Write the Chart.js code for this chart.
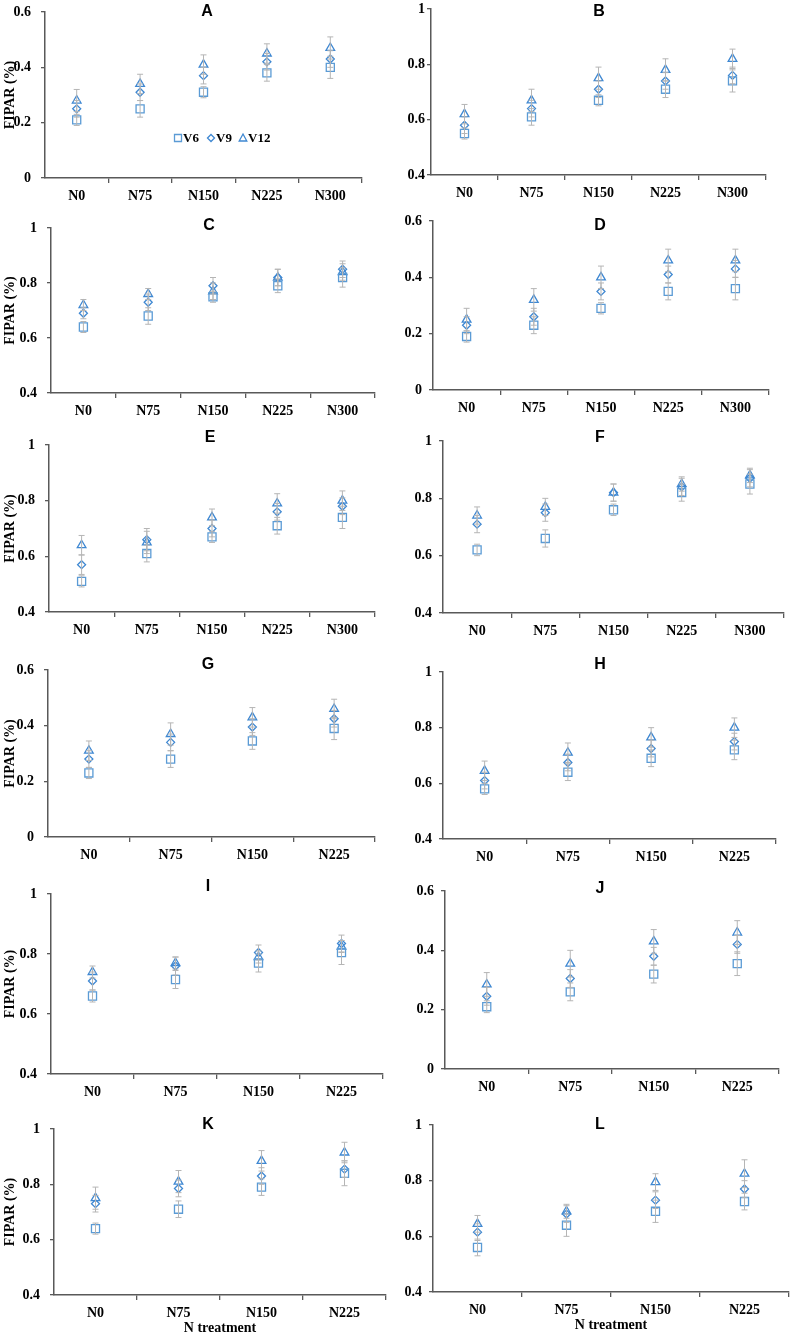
<!DOCTYPE html>
<html>
<head>
<meta charset="utf-8">
<script src="https://cdn.jsdelivr.net/npm/chart.js@4.4.1/dist/chart.umd.min.js"></script>
<style>
html, body { margin: 0; padding: 0; background: #fff; }
#wrap { position: relative; width: 794px; height: 1339px; overflow: hidden; }
#wrap canvas { position: absolute; }
</style>
</head>
<body>
<div id="wrap"></div>
<script>
// categories and series
const catsFive = ['N0', 'N75', 'N150', 'N225', 'N300'];
const catsFour = ['N0', 'N75', 'N150', 'N225'];
const seriesNames = ['V6', 'V9', 'V12'];
const ticks06 = [0, 0.6];
const ticks1 = [0.4, 1];

// A
const v6A = [0.21, 0.25, 0.31, 0.38, 0.40];
const v9A = [0.25, 0.31, 0.37, 0.42, 0.43];
const v12A = [0.28, 0.34, 0.41, 0.45, 0.47];
const e6A = [0.02, 0.03, 0.02, 0.03, 0.04];
const e9A = [0.03, 0.03, 0.03, 0.03, 0.03];
const e12A = [0.04, 0.035, 0.035, 0.035, 0.04];
// B
const v6B = [0.55, 0.61, 0.67, 0.71, 0.74];
const v9B = [0.58, 0.64, 0.71, 0.74, 0.76];
const v12B = [0.62, 0.67, 0.75, 0.78, 0.82];
const e6B = [0.02, 0.03, 0.02, 0.03, 0.04];
const e9B = [0.03, 0.03, 0.03, 0.03, 0.03];
const e12B = [0.035, 0.04, 0.04, 0.04, 0.035];
// C
const v6C = [0.64, 0.68, 0.75, 0.79, 0.82];
const v9C = [0.69, 0.73, 0.79, 0.82, 0.85];
const v12C = [0.72, 0.76, 0.77, 0.82, 0.84];
const e6C = [0.02, 0.03, 0.02, 0.025, 0.035];
const e9C = [0.02, 0.03, 0.03, 0.03, 0.03];
const e12C = [0.02, 0.02, 0.03, 0.03, 0.03];
// D
const v6D = [0.19, 0.23, 0.29, 0.35, 0.36];
const v9D = [0.23, 0.26, 0.35, 0.41, 0.43];
const v12D = [0.25, 0.32, 0.40, 0.46, 0.46];
const e6D = [0.02, 0.03, 0.02, 0.03, 0.04];
const e9D = [0.03, 0.03, 0.03, 0.03, 0.03];
const e12D = [0.04, 0.04, 0.04, 0.04, 0.04];
// E
const v6E = [0.51, 0.61, 0.67, 0.71, 0.74];
const v9E = [0.57, 0.66, 0.70, 0.76, 0.78];
const v12E = [0.64, 0.65, 0.74, 0.79, 0.80];
const e6E = [0.02, 0.03, 0.02, 0.03, 0.04];
const e9E = [0.035, 0.04, 0.03, 0.03, 0.03];
const e12E = [0.035, 0.04, 0.03, 0.035, 0.035];
// F
const v6F = [0.62, 0.66, 0.76, 0.82, 0.85];
const v9F = [0.71, 0.75, 0.82, 0.84, 0.87];
const v12F = [0.74, 0.77, 0.82, 0.85, 0.88];
const e6F = [0.02, 0.03, 0.02, 0.03, 0.035];
const e9F = [0.03, 0.03, 0.03, 0.03, 0.03];
const e12F = [0.03, 0.03, 0.03, 0.025, 0.025];
// G
const v6G = [0.23, 0.28, 0.345, 0.39];
const v9G = [0.28, 0.34, 0.395, 0.425];
const v12G = [0.31, 0.37, 0.43, 0.46];
const e6G = [0.02, 0.03, 0.03, 0.04];
const e9G = [0.03, 0.03, 0.03, 0.03];
const e12G = [0.035, 0.04, 0.035, 0.035];
// H
const v6H = [0.58, 0.64, 0.69, 0.72];
const v9H = [0.61, 0.675, 0.725, 0.75];
const v12H = [0.645, 0.71, 0.765, 0.80];
const e6H = [0.02, 0.03, 0.03, 0.035];
const e9H = [0.03, 0.03, 0.03, 0.03];
const e12H = [0.035, 0.035, 0.035, 0.035];
// I
const v6I = [0.66, 0.715, 0.77, 0.805];
const v9I = [0.71, 0.76, 0.805, 0.835];
const v12I = [0.74, 0.77, 0.79, 0.825];
const e6I = [0.02, 0.03, 0.03, 0.04];
const e9I = [0.03, 0.03, 0.025, 0.028];
const e12I = [0.02, 0.02, 0.02, 0.02];
// J
const v6J = [0.21, 0.26, 0.32, 0.355];
const v9J = [0.245, 0.305, 0.38, 0.42];
const v12J = [0.285, 0.355, 0.43, 0.46];
const e6J = [0.02, 0.03, 0.03, 0.04];
const e9J = [0.03, 0.03, 0.03, 0.03];
const e12J = [0.04, 0.045, 0.04, 0.04];
// K
const v6K = [0.64, 0.71, 0.79, 0.84];
const v9K = [0.73, 0.785, 0.83, 0.855];
const v12K = [0.75, 0.81, 0.885, 0.915];
const e6K = [0.02, 0.03, 0.03, 0.045];
const e9K = [0.03, 0.03, 0.03, 0.03];
const e12K = [0.04, 0.04, 0.037, 0.037];
// L
const v6L = [0.56, 0.64, 0.69, 0.725];
const v9L = [0.615, 0.68, 0.73, 0.77];
const v12L = [0.645, 0.69, 0.795, 0.825];
const e6L = [0.03, 0.04, 0.04, 0.03];
const e9L = [0.03, 0.03, 0.03, 0.03];
const e12L = [0.03, 0.025, 0.03, 0.05];

const panels = [
    { id: 'A', cats: catsFive, range: ticks06, vals: [v6A, v9A, v12A], errs: [e6A, e9A, e12A] },
    { id: 'B', cats: catsFive, range: ticks1, vals: [v6B, v9B, v12B], errs: [e6B, e9B, e12B] },
    { id: 'C', cats: catsFive, range: ticks1, vals: [v6C, v9C, v12C], errs: [e6C, e9C, e12C] },
    { id: 'D', cats: catsFive, range: ticks06, vals: [v6D, v9D, v12D], errs: [e6D, e9D, e12D] },
    { id: 'E', cats: catsFive, range: ticks1, vals: [v6E, v9E, v12E], errs: [e6E, e9E, e12E] },
    { id: 'F', cats: catsFive, range: ticks1, vals: [v6F, v9F, v12F], errs: [e6F, e9F, e12F] },
    { id: 'G', cats: catsFour, range: ticks06, vals: [v6G, v9G, v12G], errs: [e6G, e9G, e12G] },
    { id: 'H', cats: catsFour, range: ticks1, vals: [v6H, v9H, v12H], errs: [e6H, e9H, e12H] },
    { id: 'I', cats: catsFour, range: ticks1, vals: [v6I, v9I, v12I], errs: [e6I, e9I, e12I] },
    { id: 'J', cats: catsFour, range: ticks06, vals: [v6J, v9J, v12J], errs: [e6J, e9J, e12J] },
    { id: 'K', cats: catsFour, range: ticks1, vals: [v6K, v9K, v12K], errs: [e6K, e9K, e12K] },
    { id: 'L', cats: catsFour, range: ticks1, vals: [v6L, v9L, v12L], errs: [e6L, e9L, e12L] }
];

// plot-area boxes on the page: left, top, right, bottom, title x, title y, tick gap
const boxes = [
    [45, 12, 365, 178, 207, 12, 10],
    [431, 9, 769, 175, 599, 12, 2],
    [51, 228, 378, 393, 209, 226, 10],
    [433, 221, 772, 390, 600, 226, 7],
    [49, 445, 378, 612, 210, 438, 10],
    [443, 441, 787, 613, 600, 438, 7],
    [48, 670, 378, 837, 208, 665, 10],
    [443, 672, 779, 839, 600, 665, 7],
    [51, 894, 386, 1074, 208, 887, 10],
    [445, 891, 782, 1069, 600, 889, 7],
    [54, 1129, 389, 1295, 208, 1125, 10],
    [433, 1125, 792, 1292, 600, 1125, 7]
];

const axisColor = '#595959';
const errColor = '#b5b5b5';
const markerColors = ['#5b9bd5', '#3f88d2', '#3f88d2'];
const markerStyles = ['rect', 'rectRot', 'triangle'];
const markerRadius = [5.7, 4, 5];
const serif = 'Liberation Serif, Times New Roman, serif';

const errorBars = {
    id: 'errorBars',
    afterDatasetsDraw(chart) {
        const ctx = chart.ctx;
        const yScale = chart.scales.y;
        ctx.save();
        ctx.strokeStyle = errColor;
        ctx.lineWidth = 1;
        chart.data.datasets.forEach((ds, i) => {
            const meta = chart.getDatasetMeta(i);
            ds.data.forEach((v, j) => {
                const x = meta.data[j].x;
                const yt = yScale.getPixelForValue(v + ds.errors[j]);
                const yb = yScale.getPixelForValue(v - ds.errors[j]);
                ctx.beginPath();
                ctx.moveTo(x, yt); ctx.lineTo(x, yb);
                ctx.moveTo(x - 3, yt); ctx.lineTo(x + 3, yt);
                ctx.moveTo(x - 3, yb); ctx.lineTo(x + 3, yb);
                ctx.stroke();
            });
        });
        ctx.restore();
    }
};

const panelTitle = {
    id: 'panelTitle',
    afterDraw(chart, args, opts) {
        const ctx = chart.ctx;
        ctx.save();
        ctx.fillStyle = '#000';
        ctx.font = 'bold 16px Liberation Sans, Arial, sans-serif';
        ctx.textAlign = 'center';
        ctx.textBaseline = 'middle';
        ctx.fillText(opts.text, opts.x, opts.y);
        ctx.restore();
    }
};

// legend inside panel A
const innerLegend = {
    id: 'innerLegend',
    afterDraw(chart, args, opts) {
        if (!opts.show) return;
        const ctx = chart.ctx;
        const spots = [opts.x, opts.x + 33, opts.x + 65];
        const y = opts.y;
        ctx.save();
        ctx.lineWidth = 1.3;
        seriesNames.forEach((name, i) => {
            const x = spots[i];
            ctx.strokeStyle = markerColors[i];
            ctx.beginPath();
            if (i === 0) {
                ctx.rect(x - 3.5, y - 3.5, 7, 7);
            } else if (i === 1) {
                ctx.moveTo(x - 3.5, y); ctx.lineTo(x, y - 3.5);
                ctx.lineTo(x + 3.5, y); ctx.lineTo(x, y + 3.5); ctx.closePath();
            } else {
                ctx.moveTo(x, y - 4); ctx.lineTo(x + 3.8, y + 3); ctx.lineTo(x - 3.8, y + 3); ctx.closePath();
            }
            ctx.stroke();
            ctx.fillStyle = '#000';
            ctx.font = 'bold 13px ' + serif;
            ctx.textAlign = 'left';
            ctx.textBaseline = 'middle';
            ctx.fillText(name, x + 5, y + 1);
        });
        ctx.restore();
    }
};

const wrap = document.getElementById('wrap');

panels.forEach((p, k) => {
    const [l, t, r, b, tx, ty, gap] = boxes[k];
    const leftCol = k % 2 === 0;
    const lastRow = k >= 10;
    const yw = leftCol ? l - 2 : 40;
    const padTop = 22, padRight = 4;
    const xh = lastRow ? 44 : 30;
    const cx = l - yw, cy = t - padTop;
    const w = r - cx + padRight, h = b - cy + xh;
    const n = p.cats.length;

    const canvas = document.createElement('canvas');
    canvas.width = w;
    canvas.height = h;
    canvas.style.left = cx + 'px';
    canvas.style.top = cy + 'px';
    canvas.style.width = w + 'px';
    canvas.style.height = h + 'px';
    wrap.appendChild(canvas);

    const datasets = p.vals.map((vals, i) => ({
        label: seriesNames[i],
        data: vals,
        errors: p.errs[i],
        showLine: false,
        pointStyle: markerStyles[i],
        pointRadius: markerRadius[i],
        pointBorderColor: markerColors[i],
        pointBackgroundColor: 'rgba(0,0,0,0)',
        pointBorderWidth: 1.3
    }));

    new Chart(canvas.getContext('2d'), {
        type: 'line',
        data: { labels: p.cats, datasets: datasets },
        options: {
            responsive: false,
            animation: false,
            events: [],
            layout: { padding: { top: padTop, right: padRight, left: 0, bottom: 0 } },
            plugins: {
                legend: { display: false },
                tooltip: { enabled: false },
                panelTitle: { text: p.id, x: tx - cx, y: ty - cy },
                innerLegend: { show: k === 0, x: 178 - cx, y: 138 - cy }
            },
            scales: {
                x: {
                    type: 'category',
                    offset: true,
                    grid: {
                        offset: true,
                        drawOnChartArea: false,
                        drawTicks: true,
                        tickLength: 5,
                        lineWidth: 1.3,
                        color: ctx => (ctx.index === 0 || ctx.index >= n) ? 'rgba(0,0,0,0)' : axisColor
                    },
                    border: { display: true, color: axisColor, width: 1.5 },
                    ticks: {
                        color: '#000',
                        padding: 5,
                        maxRotation: 0,
                        autoSkip: false,
                        font: { family: serif, weight: 'bold', size: 14 }
                    },
                    title: {
                        display: lastRow,
                        text: 'N treatment',
                        color: '#000',
                        padding: { top: 0, bottom: 2 },
                        font: { family: serif, weight: 'bold', size: 14 }
                    },
                    afterFit: s => { s.height = xh; }
                },
                y: {
                    min: p.range[0],
                    max: p.range[1],
                    grid: {
                        drawOnChartArea: false,
                        drawTicks: true,
                        tickLength: 4,
                        lineWidth: 1.3,
                        color: axisColor
                    },
                    border: { display: true, color: axisColor, width: 1.5 },
                    ticks: {
                        stepSize: 0.2,
                        color: '#000',
                        padding: gap,
                        font: { family: serif, weight: 'bold', size: 14 },
                        callback: v => String(Math.round(v * 10) / 10)
                    },
                    title: {
                        display: leftCol,
                        text: 'FIPAR (%)',
                        color: '#000',
                        padding: { top: 0, bottom: 0 },
                        font: { family: serif, weight: 'bold', size: 14 }
                    },
                    afterFit: s => { s.width = yw; }
                }
            }
        },
        plugins: [errorBars, panelTitle, innerLegend]
    });
});
</script>
</body>
</html>
